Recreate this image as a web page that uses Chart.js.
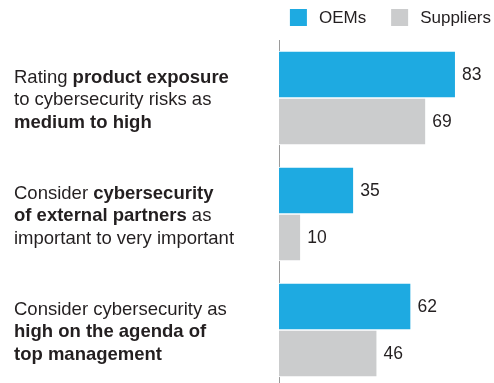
<!DOCTYPE html>
<html>
<head>
<meta charset="utf-8">
<script src="https://cdn.jsdelivr.net/npm/chart.js@4/dist/chart.umd.min.js"></script>
<style>
  html, body { margin: 0; padding: 0; background: #fff; overflow: hidden; }
  #wrap { width: 494px; height: 388px; position: relative; }
</style>
</head>
<body>
<div id="wrap"><canvas id="chart"></canvas></div>
<script>
// category labels, **text** is bold
const categoryLines = [
    ['Rating **product exposure**', 'to cybersecurity risks as', '**medium to high**'],
    ['Consider **cybersecurity**', '**of external partners** as', 'important to very important'],
    ['Consider cybersecurity as', '**high on the agenda of**', '**top management**']
];
const seriesNames = ['OEMs', 'Suppliers'];
const oems = [83, 35, 62];
const suppliers = [69, 10, 46];
const colors = ['#1eaae1', '#cbcccd'];

const FONT = 'Arial, "Liberation Sans", sans-serif';
const TEXT = '#231f20';

const labelsPlugin = {
    id: 'labelsPlugin',
    afterDatasetsDraw(chart) {
        const ctx = chart.ctx;
        const area = chart.chartArea;
        const yScale = chart.scales.y;
        ctx.save();
        ctx.fillStyle = TEXT;
        ctx.textBaseline = 'middle';

        // values at bar ends
        ctx.font = '17.5px ' + FONT;
        chart.data.datasets.forEach((ds, i) => {
            chart.getDatasetMeta(i).data.forEach((bar, j) => {
                ctx.fillText(ds.data[j], bar.x + 7, bar.y + 1);
            });
        });

        // category text with bold parts
        const lineH = 22.5;
        categoryLines.forEach((lines, i) => {
            const cy = yScale.getPixelForValue(i) + 2;
            lines.forEach((line, k) => {
                const y = cy + (k - (lines.length - 1) / 2) * lineH;
                let x = 14;
                line.split('**').forEach((part, p) => {
                    ctx.font = (p % 2 ? 'bold ' : '') + '18.5px ' + FONT;
                    ctx.fillText(part, x, y);
                    x += ctx.measureText(part).width;
                });
            });
        });

        // legend, right aligned
        ctx.font = '17px ' + FONT;
        const box = 17, boxGap = 12, itemGap = 25;
        const widths = seriesNames.map(n => box + boxGap + ctx.measureText(n).width);
        let x = area.right - widths.reduce((a, b) => a + b, 0) - itemGap * (widths.length - 1);
        seriesNames.forEach((n, i) => {
            ctx.fillStyle = colors[i];
            ctx.fillRect(x, 9, box, box);
            ctx.fillStyle = TEXT;
            ctx.fillText(n, x + box + boxGap, 18);
            x += widths[i] + itemGap;
        });
        ctx.restore();
    }
};

new Chart(document.getElementById('chart'), {
    type: 'bar',
    data: {
        labels: categoryLines.map(l => l.join(' ').replace(/\*\*/g, '')),
        datasets: [
            { label: seriesNames[0], data: oems, backgroundColor: colors[0] },
            { label: seriesNames[1], data: suppliers, backgroundColor: colors[1] }
        ]
    },
    options: {
        indexAxis: 'y',
        responsive: true,
        maintainAspectRatio: false,
        animation: false,
        layout: { padding: { left: 271, right: 3, top: 40, bottom: 0 } },
        datasets: {
            bar: {
                barThickness: 47,
                borderColor: '#ffffff',
                borderWidth: { top: 1, bottom: 1, left: 0, right: 0 },
                borderSkipped: false
            }
        },
        scales: {
            x: { display: false, min: 0, max: 100 },
            y: {
                grid: { display: false },
                ticks: { display: false },
                border: { display: true, color: '#9a9a9a', width: 1 }
            }
        },
        plugins: {
            legend: { display: false },
            tooltip: { enabled: false }
        }
    },
    plugins: [labelsPlugin]
});
</script>
</body>
</html>
